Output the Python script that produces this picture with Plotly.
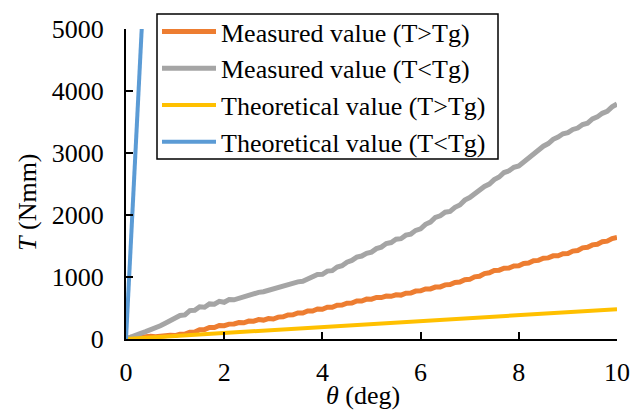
import plotly.graph_objects as go

# ---- data ----
theta = [0.0, 0.1, 0.2, 0.3, 0.4, 0.5, 0.6, 0.7, 0.8, 0.9,
         1.0, 1.1, 1.2, 1.3, 1.4, 1.5, 1.6, 1.7, 1.8, 1.9,
         2.0, 2.1, 2.2, 2.3, 2.4, 2.5, 2.6, 2.7, 2.8, 2.9,
         3.0, 3.1, 3.2, 3.3, 3.4, 3.5, 3.6, 3.7, 3.8, 3.9,
         4.0, 4.1, 4.2, 4.3, 4.4, 4.5, 4.6, 4.7, 4.8, 4.9,
         5.0, 5.1, 5.2, 5.3, 5.4, 5.5, 5.6, 5.7, 5.8, 5.9,
         6.0, 6.1, 6.2, 6.3, 6.4, 6.5, 6.6, 6.7, 6.8, 6.9,
         7.0, 7.1, 7.2, 7.3, 7.4, 7.5, 7.6, 7.7, 7.8, 7.9,
         8.0, 8.1, 8.2, 8.3, 8.4, 8.5, 8.6, 8.7, 8.8, 8.9,
         9.0, 9.1, 9.2, 9.3, 9.4, 9.5, 9.6, 9.7, 9.8, 9.9,
         10.0]

measured_above_tg = [0, 28, 22, 35, 30, 45, 38, 48, 48, 60,
                     55, 78, 80, 108, 112, 148, 152, 186, 185, 218,
                     215, 240, 242, 266, 262, 290, 288, 313, 305, 330,
                     322, 353, 358, 388, 390, 420, 420, 453, 452, 484,
                     480, 513, 512, 546, 548, 578, 580, 613, 612, 644,
                     642, 670, 668, 693, 688, 713, 708, 738, 740, 773,
                     778, 808, 808, 838, 840, 873, 878, 913, 918, 956,
                     962, 1003, 1012, 1056, 1068, 1106, 1110, 1143, 1145, 1178,
                     1180, 1218, 1225, 1263, 1268, 1303, 1308, 1341, 1342, 1376,
                     1378, 1418, 1428, 1470, 1480, 1518, 1528, 1568, 1578, 1620,
                     1638]

measured_below_tg = [0, 38, 55, 92, 118, 148, 170, 214, 255, 292,
                     322, 380, 388, 458, 462, 520, 512, 566, 562, 608,
                     592, 636, 632, 660, 680, 710, 728, 752, 762, 786,
                     792, 828, 842, 870, 888, 922, 930, 970, 988, 1040,
                     1044, 1095, 1102, 1160, 1182, 1240, 1268, 1320, 1338, 1382,
                     1402, 1458, 1482, 1540, 1556, 1610, 1618, 1675, 1692, 1752,
                     1778, 1850, 1886, 1960, 1988, 2045, 2058, 2125, 2162, 2240,
                     2282, 2345, 2388, 2460, 2498, 2570, 2612, 2685, 2712, 2770,
                     2792, 2860, 2902, 2995, 3038, 3110, 3152, 3220, 3258, 3310,
                     3328, 3380, 3402, 3460, 3482, 3550, 3582, 3640, 3672, 3745,
                     3790]

theory_above_theta = [0, 10]
theory_above_T = [0, 480]
theory_below_theta = [0, 0.32]
theory_below_T = [0, 5000]

x_ticks = [0, 2, 4, 6, 8, 10]
y_ticks = [0, 1000, 2000, 3000, 4000, 5000]

names = ["Measured value (T>Tg)", "Measured value (T<Tg)",
         "Theoretical value (T>Tg)", "Theoretical value (T<Tg)"]

assert len(theta) == len(measured_above_tg) == len(measured_below_tg)

FONT = "Liberation Serif"
W, H = 633, 410
L, R, T, B = 126, 16, 29, 71
PW, PH = W - L - R, H - T - B


def px_x(px):
    return (px - L) / PW


def px_y(py):
    return (H - B - py) / PH


fig = go.Figure()
fig.add_trace(go.Scatter(x=theta, y=measured_above_tg, mode="lines", name=names[0],
                         line=dict(color="#ED7D31", width=5)))
fig.add_trace(go.Scatter(x=theta, y=measured_below_tg, mode="lines", name=names[1],
                         line=dict(color="#A5A5A5", width=5)))
fig.add_trace(go.Scatter(x=theory_above_theta, y=theory_above_T, mode="lines", name=names[2],
                         line=dict(color="#FFC000", width=4)))
fig.add_trace(go.Scatter(x=theory_below_theta, y=theory_below_T, mode="lines", name=names[3],
                         line=dict(color="#5B9BD5", width=4)))

axis_common = dict(showline=True, linecolor="black", linewidth=2,
                   ticks="inside", ticklen=7, tickwidth=2, tickcolor="black",
                   showgrid=False, zeroline=False, automargin=False,
                   tickfont=dict(family=FONT, size=26, color="black"))

fig.update_layout(
    template="none",
    width=W, height=H,
    margin=dict(l=L, r=R, t=T, b=B, autoexpand=False),
    paper_bgcolor="white", plot_bgcolor="white",
    font=dict(family=FONT, color="black"),
    xaxis=dict(range=[0, 10], tickvals=x_ticks, ticklabelstandoff=9, **axis_common),
    yaxis=dict(range=[0, 5000], tickvals=y_ticks, ticklabelstandoff=15, **axis_common),
    legend=dict(xref="container", yref="container",
                x=157 / W, y=(H - 8) / H, xanchor="left", yanchor="top",
                bgcolor="rgba(0,0,0,0)", borderwidth=0,
                font=dict(family=FONT, size=26, color="black"),
                itemwidth=54, tracegroupgap=0),
    showlegend=True,
    shapes=[
        dict(type="rect", xref="paper", yref="paper",
             x0=px_x(157), x1=px_x(498), y0=px_y(159), y1=px_y(14),
             line=dict(color="black", width=1.5), fillcolor="white", layer="below"),
    ],
    annotations=[
        dict(text="<i>θ</i> (deg)", xref="paper", yref="paper", x=px_x(363), y=px_y(395),
             xanchor="center", yanchor="middle", showarrow=False,
             font=dict(family=FONT, size=26, color="black")),
        dict(text="<i>T</i> (Nmm)", xref="paper", yref="paper", x=px_x(27), y=px_y(202),
             xanchor="center", yanchor="middle", showarrow=False, textangle=-90,
             font=dict(family=FONT, size=26, color="black")),
    ],
)

fig.write_html("out.html", config={"displayModeBar": False},
               post_script="document.body.style.margin='0';document.body.style.padding='0';")
